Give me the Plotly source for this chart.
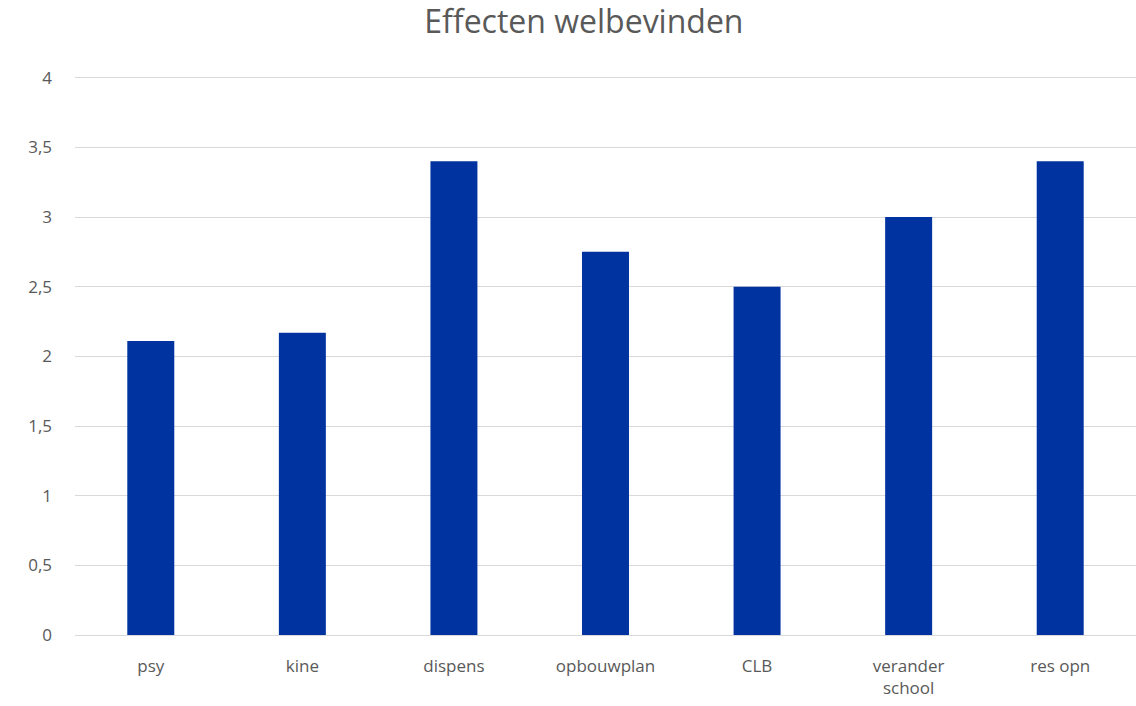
import plotly.graph_objects as go

categories = ["psy", "kine", "dispens", "opbouwplan", "CLB", "verander<br>school", "res opn"]
values = [2.11, 2.17, 3.40, 2.75, 2.50, 3.00, 3.40]
tick_vals = [0, 0.5, 1, 1.5, 2, 2.5, 3, 3.5, 4]
tick_text = ["0", "0,5", "1", "1,5", "2", "2,5", "3", "3,5", "4"]

fig = go.Figure(go.Bar(x=categories, y=values, marker=dict(color="#0033A0", line=dict(width=0))))

fig.update_layout(
    width=1136, height=706,
    margin=dict(l=75, r=0, t=76, b=71, autoexpand=False),
    paper_bgcolor="white", plot_bgcolor="white",
    font=dict(family="Open Sans", size=17, color="#595959"),
    title=dict(text="Effecten welbevinden", x=0.514, xanchor="center", y=0.969, yanchor="middle",
               font=dict(size=32, color="#595959")),
    bargap=0.69,
    showlegend=False,
)
fig.update_yaxes(range=[0, 4.012], tickvals=tick_vals, ticktext=tick_text, automargin=False,
                 showgrid=True, gridcolor="#d9d9d9", gridwidth=1.3, zeroline=False,
                 showline=False, ticks="", ticklabelstandoff=22)
fig.update_xaxes(showline=True, linecolor="#d9d9d9", linewidth=1.3, ticks="", automargin=False,
                 ticklabelstandoff=15, tickangle=0)

fig.write_html("out.html", config={"displayModeBar": False},
               post_script="document.body.style.margin='0';document.body.style.overflow='hidden';")
